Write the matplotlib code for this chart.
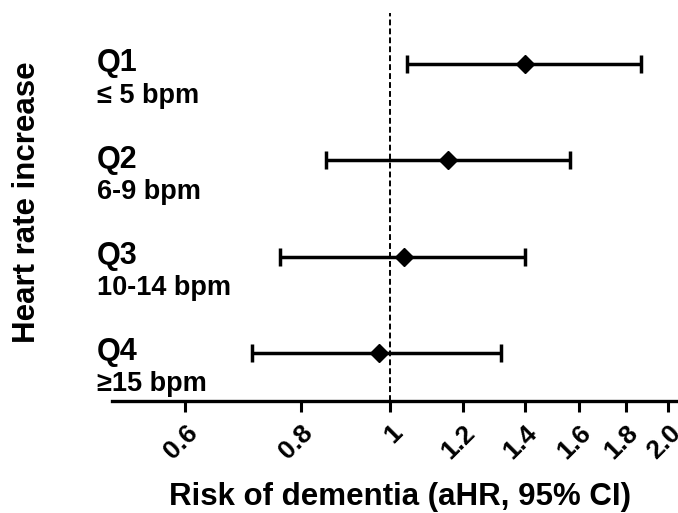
import matplotlib
matplotlib.use("Agg")
import matplotlib.pyplot as plt
import matplotlib.transforms as mtransforms
import numpy as np

plt.rcParams['font.family'] = ['Liberation Sans', 'DejaVu Sans']
plt.rcParams['font.weight'] = 'bold'

groups = ["Q1", "Q2", "Q3", "Q4"]
ranges = ["\u2264 5 bpm", "6-9 bpm", "10-14 bpm", "\u226515 bpm"]
ahr = [1.40, 1.155, 1.035, 0.972]
ci_low = [1.044, 0.853, 0.761, 0.709]
ci_high = [1.87, 1.565, 1.40, 1.318]
xticks = [0.6, 0.8, 1, 1.2, 1.4, 1.6, 1.8, 2.0]
xticklabels = ["0.6", "0.8", "1", "1.2", "1.4", "1.6", "1.8", "2.0"]

fig = plt.figure(figsize=(6.78, 5.13), dpi=100)
ax = fig.add_axes([0.1652, 0.2183, 0.8348, 0.7564])

y = np.arange(len(groups))[::-1] + 1
ahr = np.array(ahr)
err = [ahr - np.array(ci_low), np.array(ci_high) - ahr]

ax.axvline(1, color='black', lw=1.4, dashes=(3, 1.6), zorder=1)
ax.errorbar(ahr, y, xerr=err, fmt='D', color='black', ms=9, lw=2.5,
            capsize=6.5, capthick=2.5, zorder=3)

ax.set_xscale('log')
ax.set_xlim(0.5, 2.05)
ax.set_ylim(0.5, 4.53)
ax.set_xticks(xticks)
ax.set_xticklabels(xticklabels, rotation=45, ha='right', va='top',
                   rotation_mode='anchor', fontsize=19, fontweight='bold')
ax.xaxis.set_minor_locator(matplotlib.ticker.NullLocator())
ax.set_yticks([])
for s in ['top', 'right', 'left']:
    ax.spines[s].set_visible(False)
ax.spines['bottom'].set_linewidth(2.4)
ax.tick_params(axis='x', width=2.2, length=8, pad=6)

trans = mtransforms.blended_transform_factory(fig.transFigure, ax.transData)
for yi, g, r in zip(y, groups, ranges):
    ax.text(0.143, yi - 0.075, g, transform=trans, fontsize=22,
            fontweight='bold', va='baseline', ha='left', clip_on=False)
    ax.text(0.143, yi - 0.40, r, transform=trans, fontsize=19.5,
            fontweight='bold', va='baseline', ha='left', clip_on=False)

fig.text(27 / 678, 1 - 202 / 513, "Heart rate increase", rotation=90,
         fontsize=22.5, fontweight='bold', ha='center', va='center')
fig.text(400 / 678, 1 - 505 / 513, "Risk of dementia (aHR, 95% CI)",
         fontsize=22.5, fontweight='bold', ha='center', va='baseline')

fig.savefig("out.png", dpi=100)
